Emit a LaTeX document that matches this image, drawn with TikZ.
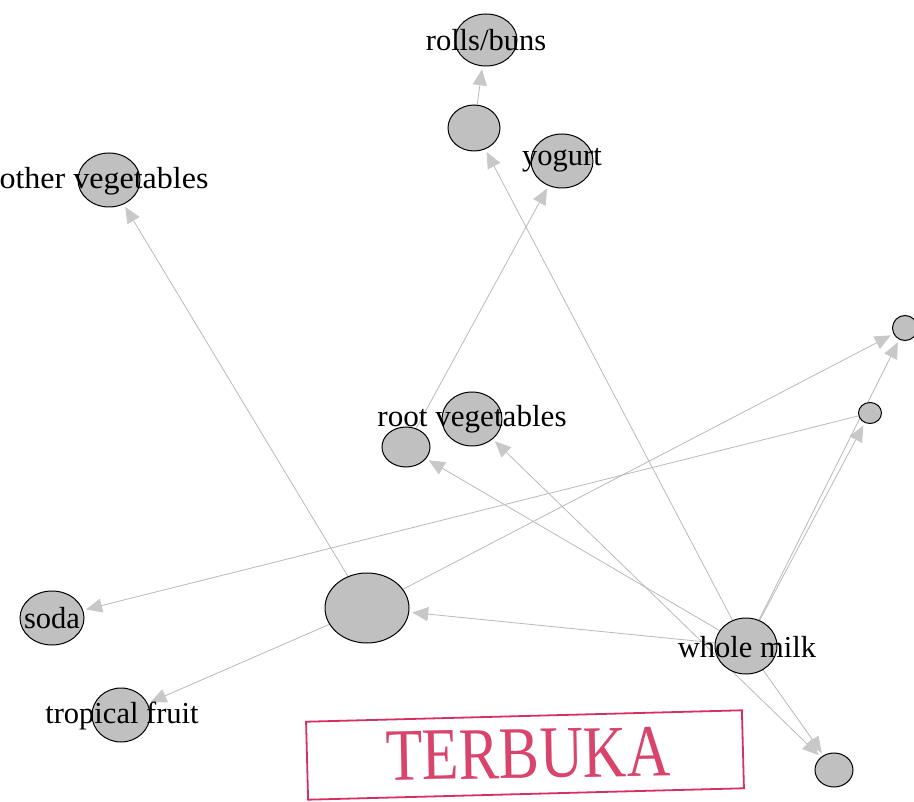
\documentclass[tikz,border=0pt]{standalone}
\usepackage{fontspec}
\setmainfont{Liberation Serif}
\usetikzlibrary{shapes.geometric,arrows.meta}
\pgfdeclarelayer{bg}
\pgfsetlayers{bg,main}
\definecolor{nodefill}{RGB}{192,192,192}
\definecolor{edgecol}{RGB}{185,185,185}
\definecolor{tipcol}{RGB}{200,200,200}
\definecolor{stampred}{RGB}{212,48,96}
\definecolor{stamptext}{RGB}{216,68,108}
\begin{document}
\begin{tikzpicture}[x=1pt,y=-1pt,
  vert/.style args={#1/#2}{ellipse, draw=black, line width=1pt, fill=nodefill,
    minimum width=#1pt, minimum height=#2pt, inner sep=0pt},
  lbl/.style={font=\fontsize{30.5}{32}\selectfont, text=black, inner sep=0pt},
  link/.style={draw=edgecol, line width=0.8pt, shorten >=3pt,
    -{Triangle[length=16pt,width=14pt,color=tipcol]}},
  bilink/.style={draw=edgecol, line width=0.8pt, shorten >=3pt, shorten <=3pt,
    {Triangle[length=16pt,width=14pt,color=tipcol]}-{Triangle[length=16pt,width=14pt,color=tipcol]}}
]
\useasboundingbox (0,0) rectangle (914,802);
\clip (0,0) rectangle (914,802);

% vertices
\node[vert=62/52] (rollsbuns) at (486,40) {};
\node[vert=52/46] (A) at (474,128) {};
\node[vert=62/54] (yogurt) at (562,161) {};
\node[vert=62/54] (otherveg) at (109,180) {};
\node[vert=60/54] (rootveg) at (472,419) {};
\node[vert=48/40] (B) at (406,447) {};
\node[vert=25/25] (C) at (905,328) {};
\node[vert=23/21] (D) at (870,413) {};
\node[vert=84/70] (E) at (367,608) {};
\node[vert=64/54] (soda) at (52,618) {};
\node[vert=58/54] (tropical) at (121,715) {};
\node[vert=62/56] (wholemilk) at (746,646) {};
\node[vert=38/34] (F) at (834,770) {};

% labels
\node[lbl] (rollsbuns-t) at (486,40) {rolls/buns};
\node[lbl] (yogurt-t) at (562,160) {yogurt};
\node[lbl] (otherveg-t) at (104,181) {\scalebox{1.05}[1]{other vegetables}};
\node[lbl] (rootveg-t) at (472,419) {\scalebox{1.02}[1]{root vegetables}};
\node[lbl] (soda-t) at (52,618) {soda};
\node[lbl] (tropical-t) at (122,716) {tropical fruit};
\node[lbl] (wholemilk-t) at (747,647) {whole milk};

% edges
\begin{pgfonlayer}{bg}
\draw[link] (A) -- (rollsbuns);
\draw[link] (wholemilk) -- (A);
\draw[link] (B) -- (yogurt);
\draw[link] (E) -- (otherveg);
\draw[bilink] (rootveg) -- (F);
\draw[link] (wholemilk) -- (B);
\draw[link] (wholemilk) -- (E);
\draw[link] (wholemilk) -- (D);
\draw[link] (wholemilk) -- (C);
\draw[link] (E) -- (C);
\draw[link] (D) -- (soda);
\draw[link] (E) -- (tropical);
\draw[link] (wholemilk) -- (F);
\end{pgfonlayer}

% stamp
\node[draw=stampred, line width=1.8pt, minimum width=436pt, minimum height=78pt,
  inner sep=0pt, rotate=1.5] (stamp) at (525,755) {};
\node[text=stamptext, inner sep=0pt, rotate=1, font=\fontsize{74}{74}\selectfont]
  (stamp-t) at (528,754) {\scalebox{0.815}[1]{TERBUKA}};
\end{tikzpicture}
\end{document}
